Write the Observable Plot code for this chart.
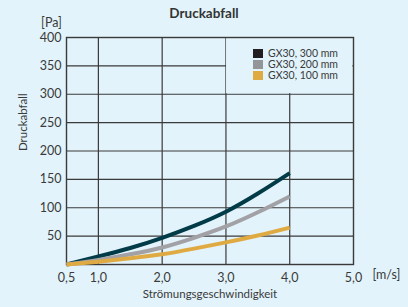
<!DOCTYPE html>
<html><head><meta charset="utf-8">
<script src="https://cdn.jsdelivr.net/npm/d3@7"></script>
<script src="https://cdn.jsdelivr.net/npm/@observablehq/plot@0.6"></script>
<style>
html,body{margin:0;padding:0;background:#e2f3fb;}
#wrap{position:relative;width:408px;height:307px;overflow:hidden;font-family:Lato,"Open Sans",sans-serif;}
#title{position:absolute;left:0;width:408px;top:5px;text-align:center;font-size:13.5px;font-weight:bold;color:#333;}
#legend{position:absolute;left:253px;top:47.5px;font-size:10.5px;color:#3a3a3a;}
#legend div{display:flex;align-items:center;height:11.3px;line-height:11.3px;}
#legend span.sw{display:inline-block;width:10px;height:9px;margin-right:5px;}
</style></head>
<body><div id="wrap"><div id="title">Druckabfall</div><div id="chart"></div><div id="legend"></div></div>
<script>
const speeds = [0.5, 1.0, 1.5, 2.0, 2.5, 3.0, 3.5, 4.0];
const gx300 = [0, 14, 29, 47, 68, 93, 125, 161];
const gx200 = [0, 8, 18, 30, 47, 67, 92, 120];
const gx100 = [0, 5, 11, 18, 28, 39, 51, 65];
const seriesNames = ["GX30, 300 mm", "GX30, 200 mm", "GX30, 100 mm"];
const lineColors = ["#013b47", "#a1a1a6", "#e0aa42"];
const swatchColors = ["#231f20", "#939598", "#e0aa42"];
const xTicks = [0.5, 1, 2, 3, 4, 5];
const xGrid = [1, 2, 3, 4];
const yTicks = [0, 50, 100, 150, 200, 250, 300, 350, 400];
const legendBox = [{x1: 3, x2: 5, y1: 300, y2: 400}];

const rows = [];
[gx300, gx200, gx100].forEach((vals, i) => vals.forEach((v, j) => rows.push({s: seriesNames[i], x: speeds[j], y: v})));

const fmt = d => d.toFixed(1).replace(".", ",");
const gridColor = "#3a3a3a";
const bg = "#e2f3fb";
const plot = Plot.plot({
  width: 408, height: 307,
  marginLeft: 66, marginRight: 55, marginTop: 37, marginBottom: 43,
  style: {background: "transparent", fontFamily: "Lato, 'Open Sans', sans-serif", fontSize: "12.5px", color: "#3a3a3a"},
  x: {domain: [0.5, 5], label: null},
  y: {domain: [0, 400], label: null},
  color: {domain: seriesNames, range: lineColors},
  marks: [
    Plot.ruleY(yTicks.filter(d => d > 0), {stroke: gridColor, strokeWidth: 1.2}),
    Plot.ruleX(xGrid, {stroke: gridColor, strokeWidth: 1.2}),
    Plot.rect(legendBox, {x1: "x1", x2: "x2", y1: "y1", y2: "y2", fill: bg, inset: 0.6, insetBottom: 0.6}),
    Plot.frame({stroke: gridColor, strokeWidth: 1.4}),
    Plot.axisX({ticks: xTicks, tickFormat: fmt, tickSize: 0, tickPadding: 9, fontSize: 12.5}),
    Plot.axisY({ticks: yTicks.filter(d => d > 0), tickSize: 0, tickPadding: 5, fontSize: 12.5}),
    Plot.line(rows, {x: "x", y: "y", z: "s", stroke: "s", strokeWidth: 4, curve: "natural", strokeLinecap: "butt"}),
    Plot.text(["[m/s]"], {x: 5, y: 0, frameAnchor: "bottom", dx: 33, dy: 14, fontSize: 12.5, fill: "#3a3a3a"}),
    Plot.text(["[Pa]"], {x: 0.5, y: 400, dx: -15, dy: -15, fontSize: 12.5, fill: "#3a3a3a"}),
    Plot.text(["Druckabfall"], {frameAnchor: "left", dx: -43, rotate: -90, fontSize: 11.5, fill: "#3a3a3a"}),
    Plot.text(["Strömungsgeschwindigkeit"], {frameAnchor: "bottom", dy: 33, fontSize: 11.5, fill: "#3a3a3a"})
  ]
});
document.getElementById("chart").appendChild(plot);
const lg = document.getElementById("legend");
seriesNames.forEach((n, i) => {
  const d = document.createElement("div");
  d.innerHTML = `<span class="sw" style="background:${swatchColors[i]}"></span>${n}`;
  lg.appendChild(d);
});
</script></body></html>
